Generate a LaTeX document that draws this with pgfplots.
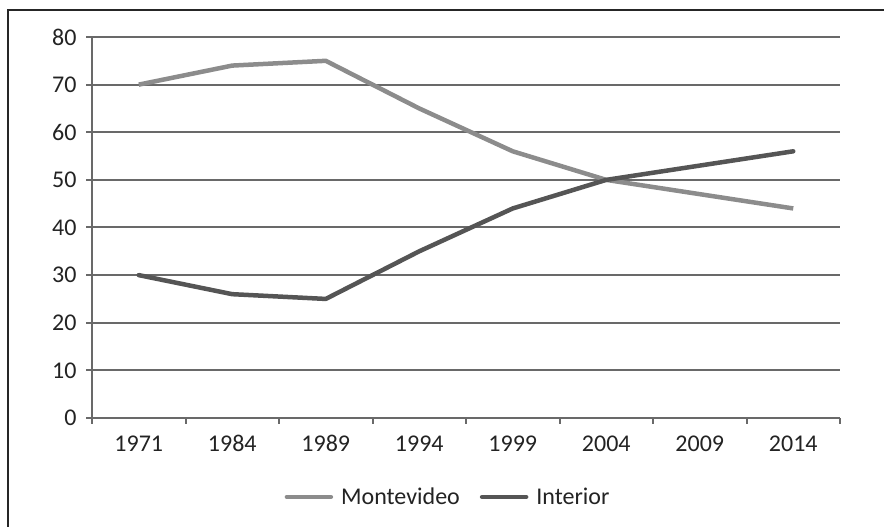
\documentclass[border=0pt]{standalone}
\usepackage{fontspec}
\setmainfont{Carlito}
\usepackage{pgfplots}
\pgfplotsset{compat=1.18}
\definecolor{montecol}{RGB}{140,140,140}
\definecolor{intcol}{RGB}{85,85,85}
\definecolor{gridcol}{RGB}{105,105,105}
\definecolor{txtcol}{RGB}{35,35,35}
\begin{document}
\begin{tikzpicture}[x=1pt,y=1pt]
\useasboundingbox (0,0) rectangle (884,527);
\draw[line width=1.5pt,black!85] (8,-5) -- (8,517) -- (889,517);
\begin{axis}[
    at={(92pt,109pt)}, anchor=south west,
    scale only axis,
    width=748pt, height=381pt,
    xmin=-0.5, xmax=7.5,
    ymin=0, ymax=80,
    ytick={0,10,...,80},
    xtick={0,...,7},
    xticklabels={1971,1984,1989,1994,1999,2004,2009,2014},
    minor xtick={-0.5,0.5,...,7.5},
    axis lines*=left,
    axis line style={gridcol, line width=2pt, -},
    ymajorgrids,
    major grid style={gridcol, line width=2pt},
    tick align=outside,
    major tick length=6pt,
    minor tick length=6pt,
    x tick style={draw=none},
    minor x tick style={draw=gridcol, line width=2pt},
    y tick style={gridcol, line width=2pt},
    tick label style={font=\fontsize{24}{28}\selectfont, text=txtcol},
    /pgf/number format/assume math mode=true,
    xticklabel style={yshift=-8pt},
    yticklabel style={xshift=-6pt},
    legend style={at={(0.48,-0.207)}, anchor=center, draw=none,
        legend columns=2, font=\fontsize{24}{28}\selectfont, text=txtcol,
        nodes={inner xsep=8pt},
        /tikz/every even column/.append style={column sep=12pt}},
    legend image code/.code={\draw[#1, line cap=round] (0pt,0pt) -- (44pt,0pt);},
]
\addplot[montecol, line width=4.5pt, line join=round] coordinates {
    (0,70) (1,74) (2,75) (3,65) (4,56) (5,50) (6,47) (7,44)
};
\addlegendentry{Montevideo}
\addplot[intcol, line width=4.5pt, line join=round, line cap=round] coordinates {
    (0,30) (1,26) (2,25) (3,35) (4,44) (5,50) (6,53) (7,56)
};
\addlegendentry{Interior}
\end{axis}
\end{tikzpicture}
\end{document}
